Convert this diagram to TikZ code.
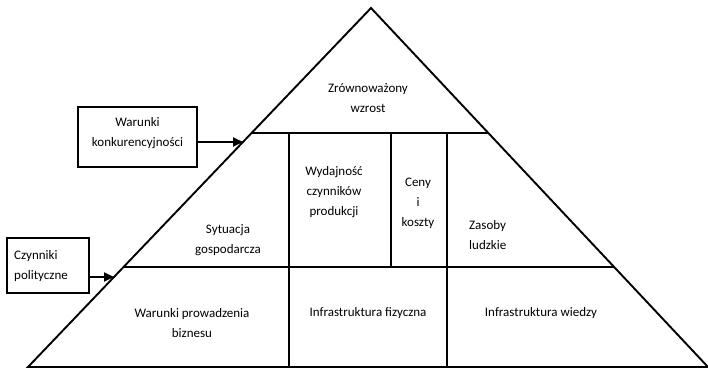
\documentclass[tikz,border=0pt]{standalone}
\usepackage{fontspec}
\setmainfont{Carlito}
\usetikzlibrary{arrows.meta,calc}
\begin{document}
\begin{tikzpicture}[x=1pt,y=-1pt,
  edge/.style={line width=1.9pt,line join=miter},
  lbl/.style={inner sep=0pt,align=center,font=\fontsize{13}{20}\selectfont},
  arr/.style={line width=1.9pt,-{Triangle[length=10pt,width=9pt]}}]
\useasboundingbox (0,0) rectangle (708,368);
% corners
\coordinate (A) at (371,8);
\coordinate (L) at (28,367);
\coordinate (R) at (708,367);
% edge points
\coordinate (l1) at (251.6,133);
\coordinate (r1) at (488.3,133);
\coordinate (l2) at (123.5,267);
\coordinate (r2) at (614,267);
\coordinate (la) at (243,142);
\coordinate (lb) at (114,277);
% dividers
\coordinate (d1t) at (289,133);
\coordinate (d1b) at (289,367);
\coordinate (d2t) at (391,133);
\coordinate (d2b) at (391,267);
\coordinate (d3t) at (447,133);
\coordinate (d3b) at (447,367);
\draw[edge] (A) -- (L) -- (R) -- cycle;
\draw[edge] (l1) -- (r1);
\draw[edge] (l2) -- (r2);
\draw[edge] (d1t) -- (d1b);
\draw[edge] (d2t) -- (d2b);
\draw[edge] (d3t) -- (d3b);
% texts
\node[lbl] (t1) at (368,98) {Zrównoważony\\wzrost};
\node[lbl] (t2) at (228,240) {Sytuacja\\gospodarcza};
\node[lbl] (t3) at (334,192) {Wydajność\\czynników\\produkcji};
\node[lbl] (t4) at (418,203) {Ceny\\i\\koszty};
\node[lbl,align=left,anchor=west] (t5) at (469,235) {Zasoby\\ludzkie};
\node[lbl] (t6) at (192,323) {Warunki prowadzenia\\biznesu};
\node[lbl] (t7) at (368,313) {Infrastruktura fizyczna};
\node[lbl] (t8) at (541,313) {Infrastruktura wiedzy};
% side boxes
\node[draw,line width=1.9pt,minimum width=119pt,minimum height=60pt,inner sep=0pt] (bw) at (137.5,137) {};
\node[lbl] (bwt) at (137.5,133) {Warunki\\konkurencyjności};
\node[draw,line width=1.9pt,minimum width=82pt,minimum height=55pt,inner sep=0pt] (bc) at (48,265.5) {};
\node[lbl,align=left,anchor=west] (bct) at (14,266) {Czynniki\\polityczne};
\draw[arr] (bw.east |- la) -- (la);
\draw[arr] (bc.east |- lb) -- (lb);
\end{tikzpicture}
\end{document}
